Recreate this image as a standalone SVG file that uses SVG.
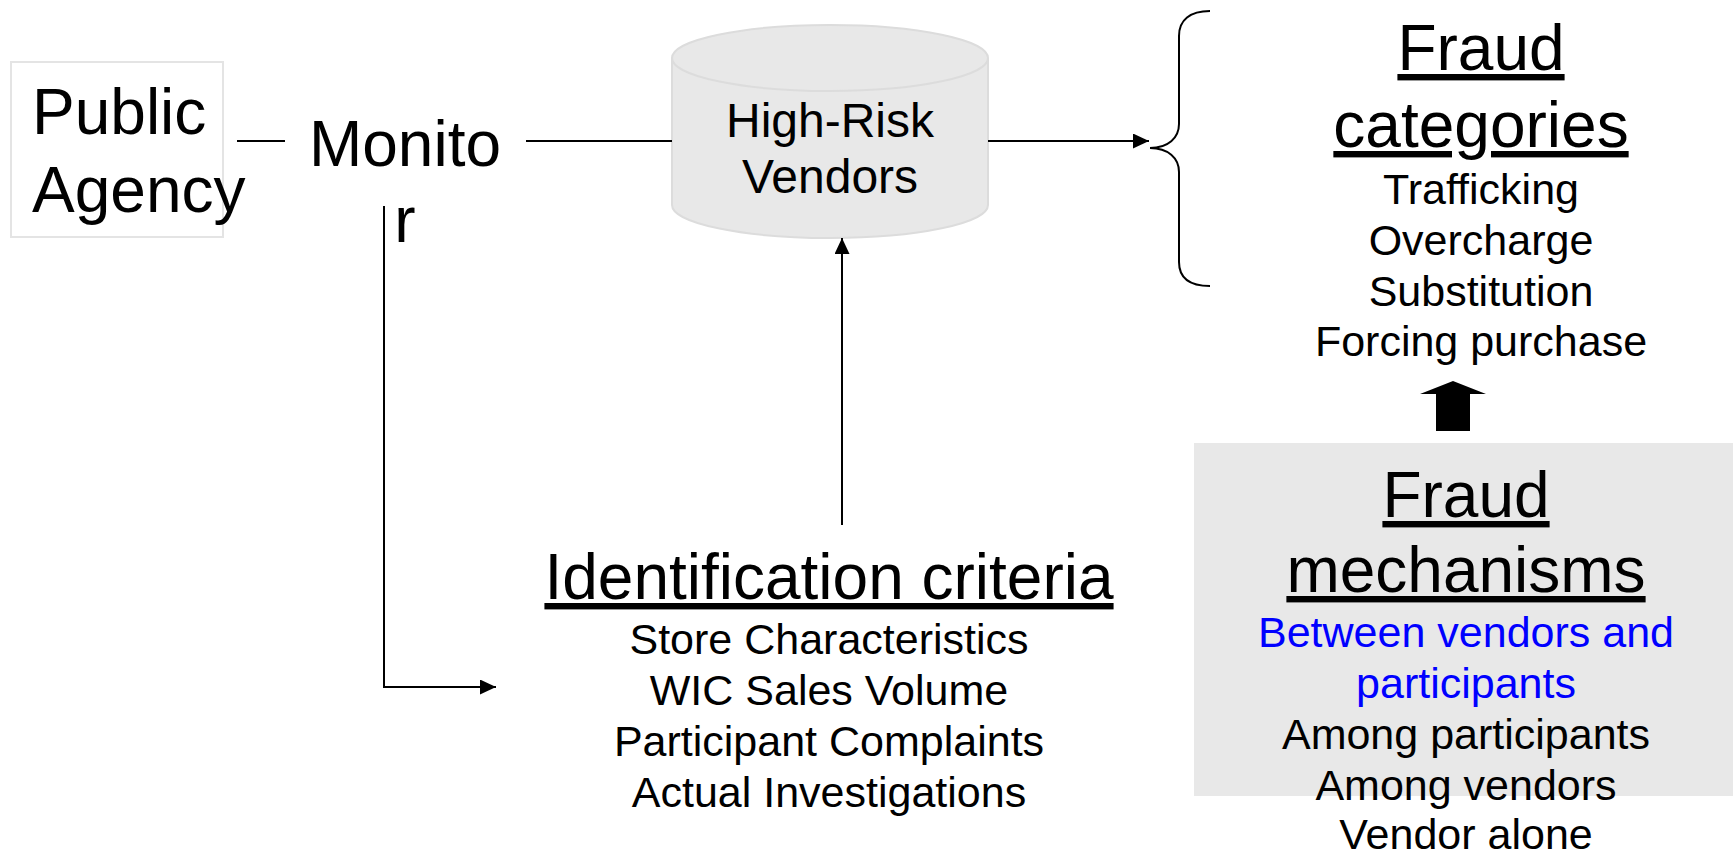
<svg xmlns="http://www.w3.org/2000/svg" width="1733" height="856" viewBox="0 0 1733 856">
<style>
text{font-family:"Liberation Sans",Arial,sans-serif;fill:#000}
.h{font-size:64px}
.m{font-size:43px;text-anchor:middle}
.c{text-anchor:middle}
.u{text-decoration:underline}
.ln{stroke:#000;stroke-width:2;fill:none}
.blue{fill:#0000ff}
</style>
<defs>
<marker id="ah" markerUnits="userSpaceOnUse" markerWidth="16" markerHeight="15" refX="16" refY="7.5" orient="auto">
<path d="M0,0 L16,7.5 L0,15 z" fill="#000"/>
</marker>
</defs>
<g id="public-agency">
<rect x="11" y="62" width="212" height="175" fill="#fff" stroke="#e4e4e4" stroke-width="2"/>
<text class="h" x="32" y="134">Public</text>
<text class="h" x="32" y="212">Agency</text>
</g>
<g id="monitor">
<text class="h c" x="405" y="166">Monito</text>
<text class="h c" x="405" y="242">r</text>
</g>
<g id="high-risk-vendors">
<path d="M672,58 L672,205 A158,33 0 0 0 988,205 L988,58 A158,33 0 0 0 672,58 z" fill="#e8e8e8" stroke="#dcdcdc" stroke-width="2"/>
<path d="M672,58 A158,33 0 0 0 988,58" fill="none" stroke="#dcdcdc" stroke-width="2"/>
<text class="c" x="830" y="137" font-size="48">High-Risk</text>
<text class="c" x="830" y="193" font-size="48">Vendors</text>
</g>
<g id="fraud-categories">
<text class="h c u" x="1481" y="70">Fraud</text>
<text class="h c u" x="1481" y="147">categories</text>
<text class="m" x="1481" y="204">Trafficking</text>
<text class="m" x="1481" y="255">Overcharge</text>
<text class="m" x="1481" y="306">Substitution</text>
<text class="m" x="1481" y="356">Forcing purchase</text>
</g>
<g id="fraud-mechanisms">
<rect x="1194" y="443" width="539" height="353" fill="#e8e8e8"/>
<text class="h c u" x="1466" y="517">Fraud</text>
<text class="h c u" x="1466" y="592">mechanisms</text>
<text class="m blue" x="1466" y="647">Between vendors and</text>
<text class="m blue" x="1466" y="698">participants</text>
<text class="m" x="1466" y="749">Among participants</text>
<text class="m" x="1466" y="800">Among vendors</text>
<text class="m" x="1466" y="849">Vendor alone</text>
</g>
<g id="identification-criteria">
<text class="h c u" x="829" y="599">Identification criteria</text>
<text class="m" x="829" y="654">Store Characteristics</text>
<text class="m" x="829" y="705">WIC Sales Volume</text>
<text class="m" x="829" y="756">Participant Complaints</text>
<text class="m" x="829" y="807">Actual Investigations</text>
</g>
<g id="connectors">
<line class="ln" x1="237" y1="141" x2="285" y2="141"/>
<line class="ln" x1="526" y1="141" x2="672" y2="141"/>
<line class="ln" x1="988" y1="141" x2="1149" y2="141" marker-end="url(#ah)"/>
<polyline class="ln" points="384,206 384,687 496,687" marker-end="url(#ah)"/>
<line class="ln" x1="842" y1="525" x2="842" y2="238" marker-end="url(#ah)"/>
<path class="ln" d="M1210,11 C1190,11 1179,20 1179,36 L1179,124 C1179,138 1168,148 1150,148 C1168,148 1179,158 1179,172 L1179,262 C1179,278 1190,286 1210,286"/>
<polygon points="1453,381 1486,394 1470,394 1470,431 1436,431 1436,394 1420,394" fill="#000"/>
</g>
</svg>
